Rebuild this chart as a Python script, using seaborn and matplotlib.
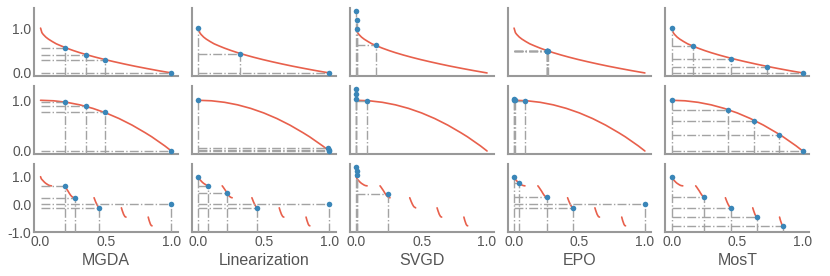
"""Pareto fronts found by five methods on ZDT-1/2/3."""

import matplotlib
matplotlib.use("Agg")
import matplotlib.pyplot as plt
from matplotlib.ticker import FormatStrFormatter
import pandas as pd
import seaborn as sns

methods = ["MGDA", "Linearization", "SVGD", "EPO", "MosT"]
problems = ["ZDT-1", "ZDT-2", "ZDT-3"]

# true Pareto fronts
zdt1_front_x = [0.0, 0.01, 0.02, 0.04, 0.06, 0.09, 0.12, 0.16, 0.2, 0.25, 0.3,
                0.36, 0.42, 0.49, 0.56, 0.64, 0.72, 0.81, 0.9, 1.0]
zdt1_front_y = [1.0, 0.9, 0.86, 0.8, 0.755, 0.7, 0.65, 0.6, 0.553, 0.5, 0.452,
                0.4, 0.352, 0.3, 0.252, 0.2, 0.151, 0.1, 0.051, 0.0]
zdt2_front_x = [0.0, 0.1, 0.2, 0.3, 0.4, 0.5, 0.6, 0.7, 0.8, 0.85, 0.9, 0.95, 1.0]
zdt2_front_y = [1.0, 0.99, 0.96, 0.91, 0.84, 0.75, 0.64, 0.51, 0.36, 0.28, 0.19, 0.1, 0.0]
zdt3_front_seg = [1] * 10 + [2] * 9 + [3] * 5 + [4] * 5 + [5] * 5
zdt3_front_x = [0.0, 0.005, 0.01, 0.02, 0.03, 0.04, 0.05, 0.06, 0.07, 0.083,
                0.182, 0.19, 0.2, 0.21, 0.22, 0.23, 0.24, 0.25, 0.258,
                0.409, 0.42, 0.43, 0.44, 0.454,
                0.618, 0.625, 0.635, 0.645, 0.653,
                0.823, 0.83, 0.84, 0.846, 0.852]
zdt3_front_y = [1.0, 0.93, 0.9, 0.85, 0.80, 0.76, 0.73, 0.70, 0.68, 0.67,
                0.67, 0.62, 0.55, 0.48, 0.40, 0.33, 0.28, 0.25, 0.24,
                0.24, 0.105, 0.0, -0.08, -0.124,
                -0.124, -0.23, -0.36, -0.44, -0.458,
                -0.458, -0.58, -0.715, -0.76, -0.773]

# solutions found by each method (one list per method, order as `methods`)
zdt1_x = [[0.19, 0.35, 0.49, 1.0],
          [0.0, 0.32, 1.0],
          [0.0, 0.005, 0.005, 0.15],
          [0.25, 0.25, 0.255, 0.255, 0.26],
          [0.0, 0.16, 0.45, 0.73, 1.0]]
zdt1_y = [[0.565, 0.41, 0.29, 0.0],
          [1.0, 0.43, 0.0],
          [1.38, 1.18, 0.99, 0.62],
          [0.5, 0.5, 0.495, 0.495, 0.49],
          [1.0, 0.6, 0.32, 0.14, 0.0]]
zdt2_x = [[0.19, 0.35, 0.49, 1.0],
          [0.0, 0.99, 1.0, 1.0],
          [0.0, 0.0, 0.0, 0.08],
          [0.0, 0.0, 0.01, 0.08],
          [0.0, 0.43, 0.63, 0.82, 1.0]]
zdt2_y = [[0.965, 0.88, 0.76, 0.0],
          [1.0, 0.05, 0.02, 0.0],
          [1.22, 1.12, 1.02, 0.99],
          [1.02, 1.0, 1.0, 0.99],
          [1.0, 0.815, 0.6, 0.32, 0.0]]
zdt3_x = [[0.19, 0.26, 0.45, 1.0],
          [0.0, 0.07, 0.22, 0.45, 1.0],
          [0.0, 0.005, 0.005, 0.24],
          [0.0, 0.04, 0.25, 0.45, 1.0],
          [0.0, 0.245, 0.45, 0.65, 0.85]]
zdt3_y = [[0.65, 0.24, -0.12, 0.0],
          [1.0, 0.68, 0.40, -0.12, 0.0],
          [1.35, 1.2, 1.05, 0.38],
          [1.0, 0.76, 0.25, -0.12, 0.0],
          [1.0, 0.26, -0.13, -0.46, -0.77]]

fronts = [
    pd.DataFrame({"x": zdt1_front_x, "y": zdt1_front_y, "seg": 1}),
    pd.DataFrame({"x": zdt2_front_x, "y": zdt2_front_y, "seg": 1}),
    pd.DataFrame({"x": zdt3_front_x, "y": zdt3_front_y, "seg": zdt3_front_seg}),
]
sol_x = [zdt1_x, zdt2_x, zdt3_x]
sol_y = [zdt1_y, zdt2_y, zdt3_y]

sns.set_theme(style="white")
plt.rcParams["font.family"] = ["Liberation Sans", "DejaVu Sans"]
text_c = "#555555"
red = "#e8604c"
blue = "#3a86b8"
gray = "#a3a3a3"

fig, axes = plt.subplots(3, 5, figsize=(8.3, 2.76), dpi=100, sharex=True, sharey="row")
fig.subplots_adjust(left=0.041, right=0.975, top=0.971, bottom=0.159,
                    wspace=0.097, hspace=0.147)

for r in range(3):
    for c in range(5):
        ax = axes[r, c]
        sns.lineplot(data=fronts[r], x="x", y="y", units="seg", estimator=None,
                     sort=False, color=red, lw=1.2, ax=ax, zorder=2)
        pts = pd.DataFrame({"x": sol_x[r][c], "y": sol_y[r][c]})
        sns.scatterplot(data=pts, x="x", y="y", color=blue, s=16, linewidth=0,
                        ax=ax, zorder=4)
        ax.set_xlabel("")
        ax.set_ylabel("")

for r in range(3):
    ticks = [-1.0, 0.0, 1.0] if r == 2 else [0.0, 1.0]
    axes[r, 0].set_yticks(ticks)
    axes[r, 0].yaxis.set_major_formatter(FormatStrFormatter("%.1f"))
    axes[r, 0].set_ylim(axes[r, 0].get_ylim())
axes[0, 0].set_xticks([0.0, 0.5, 1.0])
axes[0, 0].xaxis.set_major_formatter(FormatStrFormatter("%.1f"))

# dash-dot guide lines from each solution to the axes
for r in range(3):
    for c in range(5):
        ax = axes[r, c]
        ymin = ax.get_ylim()[0]
        xs, ys = sol_x[r][c], sol_y[r][c]
        ax.hlines(ys, 0.0, xs, colors=gray, linestyles="-.", lw=1.0, zorder=3)
        ax.vlines(xs, ymin, ys, colors=gray, linestyles="-.", lw=1.0, zorder=3)
        sns.despine(ax=ax)
        for side in ["left", "bottom"]:
            ax.spines[side].set_color("#999999")
            ax.spines[side].set_linewidth(1.5)
        ax.tick_params(labelsize=10, labelcolor=text_c, length=0, pad=2)
    axes[r, 4].yaxis.set_label_position("right")
    axes[r, 4].set_ylabel(problems[r], rotation=270, labelpad=12,
                          fontsize=11.5, color=text_c)

for c in range(5):
    axes[2, c].set_xlabel(methods[c], fontsize=11.5, color=text_c, labelpad=3)

fig.savefig("out.png", dpi=100)
plt.close(fig)
